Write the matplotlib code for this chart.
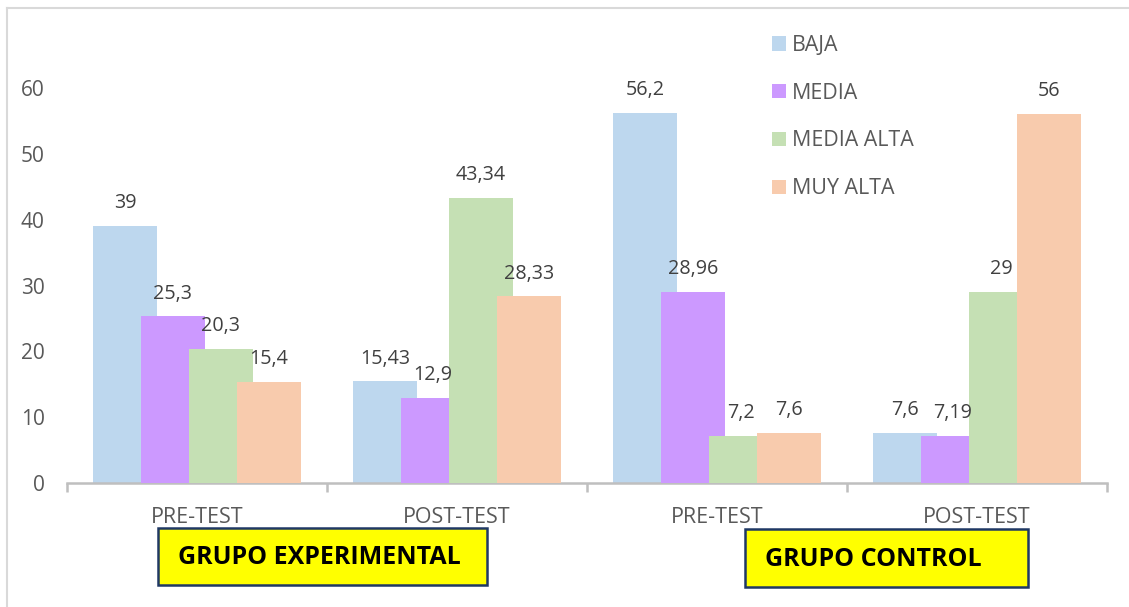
import matplotlib.pyplot as plt
from matplotlib.patches import Rectangle
from matplotlib.lines import Line2D

# categories along the x axis (two groups, pre/post each)
CATEGORIES = ["PRE-TEST", "POST-TEST", "PRE-TEST", "POST-TEST"]
GROUP_NAMES = ["GRUPO EXPERIMENTAL", "GRUPO CONTROL"]

SERIES = ["BAJA", "MEDIA", "MEDIA ALTA", "MUY ALTA"]
BAJA = [39, 15.43, 56.2, 7.6]
MEDIA = [25.3, 12.9, 28.96, 7.19]
MEDIA_ALTA = [20.3, 43.34, 7.2, 29]
MUY_ALTA = [15.4, 28.33, 7.6, 56]

COLORS = ["#BDD7EE", "#CC99FF", "#C5E0B4", "#F8CBAD"]
TEXT = "#595959"
AXIS = "#BFBFBF"

W, H = 1129, 607
FONT = "Open Sans"


def fmt(v):
    s = f"{v:.2f}".rstrip("0").rstrip(".")
    return s.replace(".", ",")


def main():
    plt.rcParams["font.family"] = [FONT, "DejaVu Sans"]
    fig = plt.figure(figsize=(W / 100, H / 100), dpi=100)

    # axes placed in pixel terms: x axis 67..1107, y=0 at 483, y=60 at 88
    ax = fig.add_axes([67 / W, (H - 483) / H, 1040 / W, 395 / H])
    ax.set_xlim(0, 4)
    ax.set_ylim(0, 60)

    bar_w = 0.246
    step = 0.1846
    start = 0.1
    data = [BAJA, MEDIA, MEDIA_ALTA, MUY_ALTA]
    for i, (name, vals) in enumerate(zip(SERIES, data)):
        xs = [c + start + i * step + bar_w / 2 for c in range(len(CATEGORIES))]
        ax.bar(xs, vals, width=bar_w, color=COLORS[i], label=name, zorder=2 + i)
        for x, v in zip(xs, vals):
            ax.annotate(fmt(v), (x, v), xytext=(0, 16.5), textcoords="offset points",
                        ha="center", va="center", fontsize=14.2, color="#404040",
                        zorder=10, annotation_clip=False)

    for s in ["top", "left", "right"]:
        ax.spines[s].set_visible(False)
    ax.spines["bottom"].set_color(AXIS)
    ax.spines["bottom"].set_linewidth(1.8)

    ax.set_yticks(range(0, 61, 10))
    ax.tick_params(axis="y", length=0, pad=16, labelsize=15, labelcolor=TEXT)

    ax.set_xticks(range(0, 5))
    ax.set_xticklabels([])
    ax.tick_params(axis="x", which="major", length=6.5, width=1.8, color=AXIS, direction="out")
    ax.set_xticks([c + 0.5 for c in range(len(CATEGORIES))], minor=True)
    ax.set_xticklabels(CATEGORIES, minor=True)
    ax.tick_params(axis="x", which="minor", length=0, pad=17, labelsize=15.5, labelcolor=TEXT)

    # legend, top right inside the chart
    leg = ax.legend(loc="upper left", bbox_to_anchor=(772 / W, 1 - 35 / H),
                    bbox_transform=fig.transFigure, frameon=False, fontsize=15.4,
                    handlelength=0.65, handleheight=0.65, handletextpad=0.3,
                    labelspacing=1.25, borderaxespad=0, borderpad=0)
    for t in leg.get_texts():
        t.set_color(TEXT)

    # yellow group boxes below the axis
    boxes = [(158, 528, 487, 585, 178), (745, 529, 1028, 587, 765)]
    for name, (x0, y0, x1, y1, tx) in zip(GROUP_NAMES, boxes):
        fig.patches.append(Rectangle((x0 / W, 1 - y1 / H), (x1 - x0) / W, (y1 - y0) / H,
                                     transform=fig.transFigure, facecolor="#FFFF00",
                                     edgecolor="#1F3864", linewidth=1.8))
        fig.text(tx / W, 1 - ((y0 + y1) / 2 + 1) / H, name, ha="left", va="center",
                 fontsize=18, fontweight="bold", color="black")

    # light chart-area border (top and left visible)
    fig.lines.append(Line2D([7 / W, 1], [1 - 8 / H, 1 - 8 / H], transform=fig.transFigure,
                            color="#D9D9D9", linewidth=1.5))
    fig.lines.append(Line2D([7 / W, 7 / W], [0, 1 - 8 / H], transform=fig.transFigure,
                            color="#D9D9D9", linewidth=1.5))

    fig.savefig("out.png", dpi=100)
    plt.close(fig)


if __name__ == "__main__":
    main()
